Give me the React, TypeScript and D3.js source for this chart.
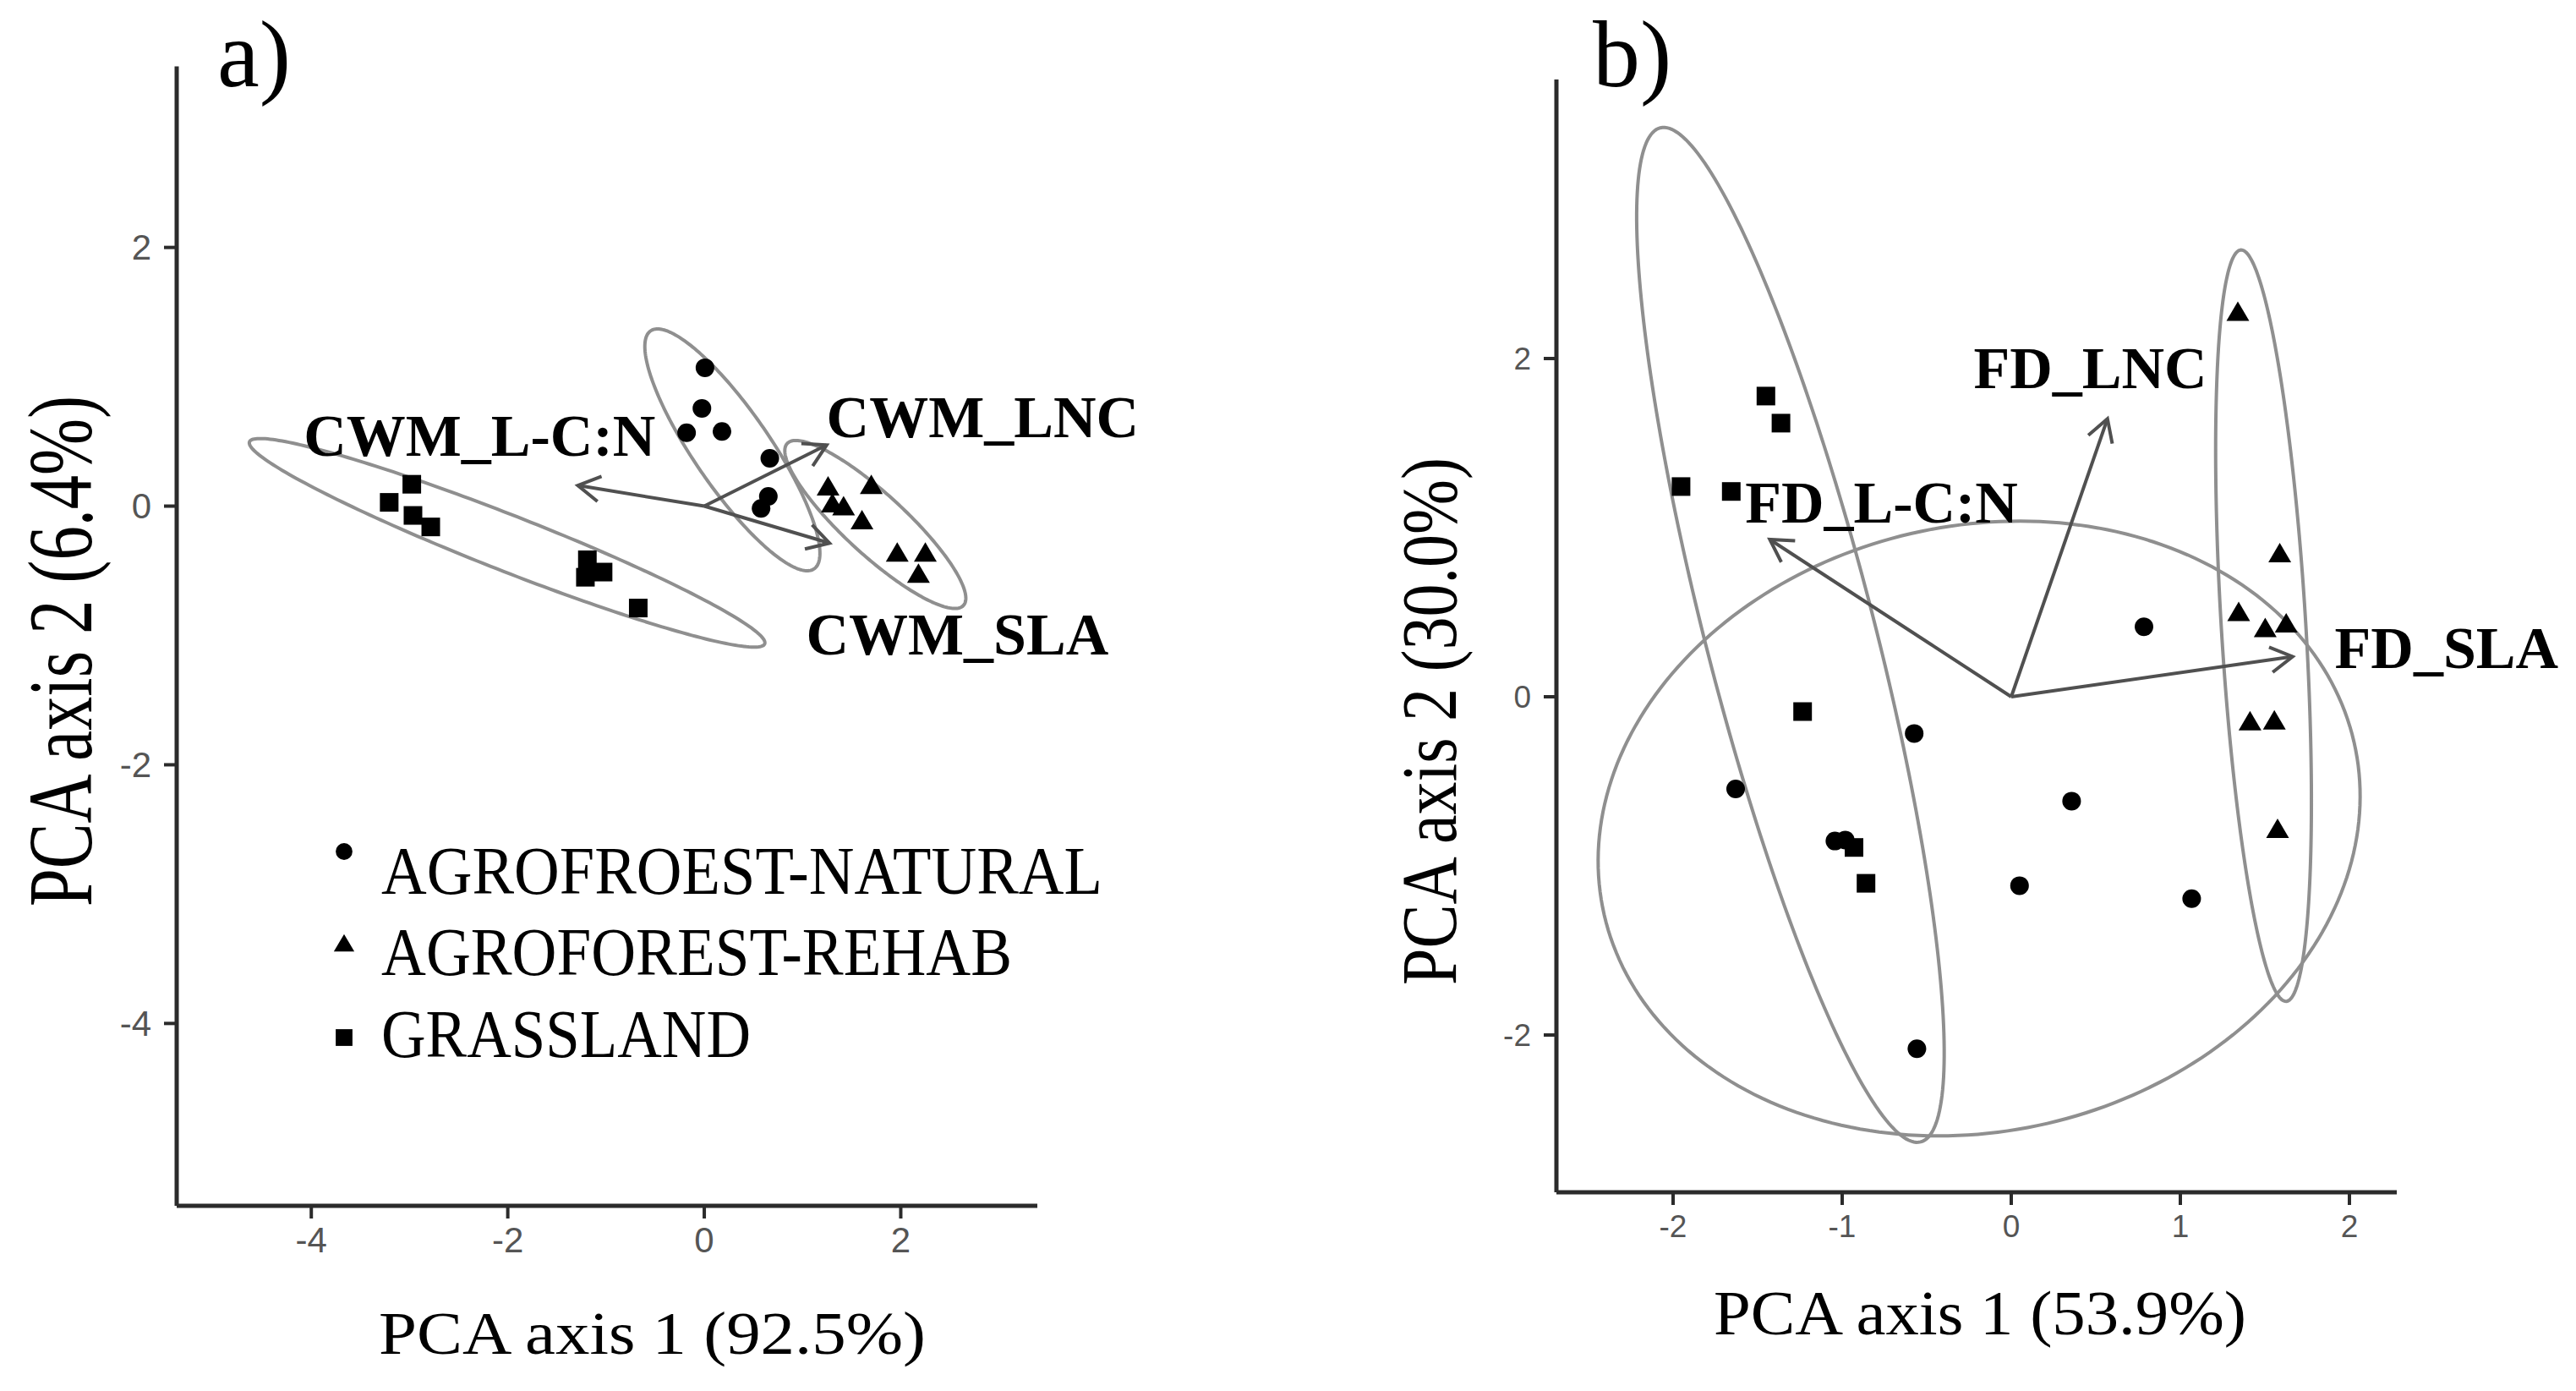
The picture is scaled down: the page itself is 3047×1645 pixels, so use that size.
import React from "react";
import * as d3 from "d3";

// ---------- DATA ----------
const groupNames = ["AGROFROEST-NATURAL", "AGROFOREST-REHAB", "GRASSLAND"];
const groupShapes = ["circle", "triangle", "square"];

// Panel a) scores (PCA axis 1, PCA axis 2)
const aNatural = [[0.007, 1.07], [-0.024, 0.756], [-0.18, 0.567], [0.18, 0.577], [0.667, 0.37], [0.652, 0.076], [0.578, -0.018]];
const aRehab = [[1.26, 0.157], [1.70, 0.168], [1.304, 0.026], [1.418, 0.004], [1.605, -0.105], [1.964, -0.355], [2.25, -0.355], [2.18, -0.518]];
const aGrass = [[-2.977, 0.169], [-3.207, 0.029], [-2.965, -0.072], [-2.784, -0.161], [-1.19, -0.415], [-1.03, -0.51], [-1.21, -0.55], [-0.672, -0.788]];

// Panel b) scores
const bNatural = [[0.785, 0.414], [-0.574, -0.217], [-1.63, -0.545], [0.357, -0.617], [0.049, -1.117], [1.067, -1.194], [-0.558, -2.081], [-1.043, -0.853], [-0.982, -0.847]];
const bRehab = [[1.34, 2.28], [1.588, 0.853], [1.345, 0.505], [1.502, 0.41], [1.626, 0.438], [1.412, -0.141], [1.556, -0.136], [1.575, -0.777]];
const bGrass = [[-1.451, 1.778], [-1.362, 1.618], [-1.953, 1.243], [-1.656, 1.214], [-1.234, -0.0875], [-0.859, -1.103], [-0.93, -0.891]];

// Loadings (arrow tips) and label anchors, in axis units
const aLoadings = [
  { name: "CWM_L-C:N", x: -1.287, y: 0.16, lx: -2.287, ly: 0.392, anchor: "middle" },
  { name: "CWM_LNC", x: 1.246, y: 0.473, lx: 1.244, ly: 0.53, anchor: "start" },
  { name: "CWM_SLA", x: 1.275, y: -0.286, lx: 1.036, ly: -1.15, anchor: "start" },
];
const bLoadings = [
  { name: "FD_L-C:N", x: -1.428, y: 0.93, lx: -1.574, ly: 1.03, anchor: "start" },
  { name: "FD_LNC", x: 0.569, y: 1.644, lx: -0.223, ly: 1.823, anchor: "start" },
  { name: "FD_SLA", x: 1.664, y: 0.2375, lx: 1.913, ly: 0.17, anchor: "start" },
];

// Group ellipses: centre and two conjugate semi-axis vectors, in axis units
const aEllipses = [
  { cx: 0.286, cy: 0.435, ax: 0.832, ay: -0.92, bx: 0.319, by: 0.167 },
  { cx: 1.741, cy: -0.142, ax: 0.897, ay: -0.626, bx: 0.21, by: 0.173 },
  { cx: -2.007, cy: -0.284, ax: 2.622, ay: -0.781, bx: 0.103, by: 0.201 },
];
const bEllipses = [
  { cx: -0.19, cy: -0.779, ax: 2.217, ay: 0.512, bx: 0.403, by: -1.744 },
  { cx: 1.492, cy: 0.4205, ax: 0.134, ay: -2.2215, bx: 0.2495, by: 0.015 },
  { cx: -1.306, cy: 0.366, ax: 0.77, ay: -2.998, bx: 0.484, by: 0.124 },
];

const aXTicks = [-4, -2, 0, 2];
const aYTicks = [2, 0, -2, -4];
const bXTicks = [-2, -1, 0, 1, 2];
const bYTicks = [-2, 0, 2];

const aXDomain = [-5.37, 3.39];
const aYDomain = [-5.41, 3.4];
const bXDomain = [-2.69, 2.28];
const bYDomain = [-2.93, 3.65];

// ---------- STYLE ----------
const SERIF = "'Liberation Serif', 'Times New Roman', serif";
const SANS = "'Liberation Sans', Arial, sans-serif";
const AXIS = "#2b2b2b";
const TICKTXT = "#555";
const ELL = "#8f8f8f";
const ARROW = "#505050";

function shapePath(shape: string) {
  if (shape === "circle") return d3.symbol().type(d3.symbolCircle).size(Math.PI * 11 * 11)()!;
  if (shape === "square") return d3.symbol().type(d3.symbolSquare).size(22 * 22)()!;
  const w = 27, h = 23;
  return `M0,${-h / 2}L${w / 2},${h / 2}L${-w / 2},${h / 2}Z`;
}

function Panel(props: any) {
  const { x, y, points, loadings, ellipses, xTicks, yTicks, tickSize, labelSize } = props;
  const [x0, x1] = x.range();
  const [yb, yt] = y.range();
  const line = d3.line().curve(d3.curveLinearClosed);
  const ox = x(0), oy = y(0);
  return (
    <g>
      {ellipses.map((e: any, i: number) => {
        const pts = d3.range(240).map((k) => {
          const t = (k / 240) * Math.PI * 2;
          return [x(e.cx + e.ax * Math.cos(t) + e.bx * Math.sin(t)), y(e.cy + e.ay * Math.cos(t) + e.by * Math.sin(t))] as [number, number];
        });
        return <path key={"e" + i} d={line(pts)!} fill="none" stroke={ELL} strokeWidth={4} />;
      })}
      {points.map((grp: number[][], gi: number) =>
        grp.map((p, pi) => (
          <path key={`p${gi}-${pi}`} d={shapePath(groupShapes[gi])} transform={`translate(${x(p[0])},${y(p[1])})`} fill="#000" />
        ))
      )}
      {loadings.map((l: any, i: number) => {
        const ex = x(l.x), ey = y(l.y);
        const ang = Math.atan2(ey - oy, ex - ox);
        const L = 30, sp = Math.PI / 6;
        const a1 = [ex - L * Math.cos(ang - sp), ey - L * Math.sin(ang - sp)];
        const a2 = [ex - L * Math.cos(ang + sp), ey - L * Math.sin(ang + sp)];
        return (
          <g key={"l" + i}>
            <line x1={ox} y1={oy} x2={ex} y2={ey} stroke={ARROW} strokeWidth={4} />
            <path d={`M${a1[0]},${a1[1]}L${ex},${ey}L${a2[0]},${a2[1]}`} fill="none" stroke={ARROW} strokeWidth={4} strokeLinejoin="miter" />
            <text x={x(l.lx)} y={y(l.ly)} textAnchor={l.anchor} fontFamily={SERIF} fontWeight="bold" fontSize={labelSize} fill="#000">
              {l.name}
            </text>
          </g>
        );
      })}
      {/* axes */}
      <line x1={x0} y1={yb} x2={x1} y2={yb} stroke={AXIS} strokeWidth={5} />
      <line x1={x0} y1={yb} x2={x0} y2={yt} stroke={AXIS} strokeWidth={5} />
      {xTicks.map((t: number) => (
        <g key={"xt" + t}>
          <line x1={x(t)} x2={x(t)} y1={yb} y2={yb + 15} stroke={AXIS} strokeWidth={4} />
          <text x={x(t)} y={yb + 40} textAnchor="middle" dominantBaseline="central" fontFamily={SANS} fontSize={tickSize} fill={TICKTXT}>
            {t}
          </text>
        </g>
      ))}
      {yTicks.map((t: number) => (
        <g key={"yt" + t}>
          <line x1={x0 - 15} x2={x0} y1={y(t)} y2={y(t)} stroke={AXIS} strokeWidth={4} />
          <text x={x0 - 30} y={y(t)} textAnchor="end" dominantBaseline="central" fontFamily={SANS} fontSize={tickSize} fill={TICKTXT}>
            {t}
          </text>
        </g>
      ))}
    </g>
  );
}

export default function App() {
  const W = 3047, H = 1645;
  const xA = d3.scaleLinear().domain(aXDomain).range([209, 1227]);
  const yA = d3.scaleLinear().domain(aYDomain).range([1426, 78.5]);
  const xB = d3.scaleLinear().domain(bXDomain).range([1841, 2835]);
  const yB = d3.scaleLinear().domain(bYDomain).range([1410, 94]);

  const legendY = [1007, 1115, 1227];
  const legendBase = [1057, 1153, 1250];
  const legendWidths = [853, 746, 437];

  return (
    <svg width={W} height={H} viewBox={`0 0 ${W} ${H}`} style={{ position: "absolute", left: 0, top: 0, background: "#fff" }}>
      <rect x={0} y={0} width={W} height={H} fill="#fff" />
      <Panel x={xA} y={yA} points={[aNatural, aRehab, aGrass]} loadings={aLoadings} ellipses={aEllipses}
        xTicks={aXTicks} yTicks={aYTicks} tickSize={42} labelSize={70} />
      <Panel x={xB} y={yB} points={[bNatural, bRehab, bGrass]} loadings={bLoadings} ellipses={bEllipses}
        xTicks={bXTicks} yTicks={bYTicks} tickSize={37} labelSize={70} />

      {/* panel letters */}
      <text x={257} y={102} fontFamily={SERIF} fontSize={112} fill="#000">a)</text>
      <text x={1884} y={102} fontFamily={SERIF} fontSize={112} fill="#000">b)</text>

      {/* axis titles */}
      <text x={448} y={1601} fontFamily={SERIF} fontSize={72} textLength={647} lengthAdjust="spacingAndGlyphs" fill="#000">PCA axis 1 (92.5%)</text>
      <text transform="translate(108,1072) rotate(-90)" fontFamily={SERIF} fontSize={108} textLength={604} lengthAdjust="spacingAndGlyphs" fill="#000">PCA axis 2 (6.4%)</text>
      <text x={2027} y={1578} fontFamily={SERIF} fontSize={75} textLength={630} lengthAdjust="spacingAndGlyphs" fill="#000">PCA axis 1 (53.9%)</text>
      <text transform="translate(1722,1165) rotate(-90)" fontFamily={SERIF} fontSize={94} textLength={624} lengthAdjust="spacingAndGlyphs" fill="#000">PCA axis 2 (30.0%)</text>

      {/* legend */}
      {groupNames.map((g, i) => (
        <g key={g}>
          <path d={shapePath(groupShapes[i])} transform={`translate(407,${legendY[i]}) scale(0.9)`} fill="#000" />
          <text x={451} y={legendBase[i]} fontFamily={SERIF} fontSize={80} textLength={legendWidths[i]} lengthAdjust="spacingAndGlyphs" fill="#000">{g}</text>
        </g>
      ))}
    </svg>
  );
}
